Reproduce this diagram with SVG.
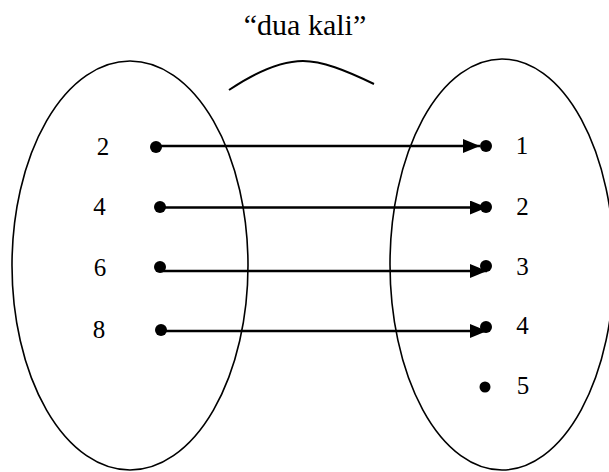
<svg xmlns="http://www.w3.org/2000/svg" width="609" height="472" viewBox="0 0 609 472">
  <style>
    text { font-family: 'Liberation Serif', 'Times New Roman', 'DejaVu Serif', serif; fill: #000; }
    .num { font-size: 25px; }
    .set { fill: none; stroke: #000; stroke-width: 1.6; }
    .conn { stroke: #000; stroke-width: 2.6; fill: none; }
    .dot { fill: #000; }
  </style>
  <defs>
    <marker id="arrow" markerUnits="userSpaceOnUse" markerWidth="18" markerHeight="14" refX="17" refY="7" orient="auto">
      <path d="M0,0 L17,7 L0,14 Z" fill="#000"/>
    </marker>
  </defs>
  <rect width="609" height="472" fill="#fff"/>

  <g id="title">
    <text x="305" y="35" font-family="Liberation Serif, serif" font-size="30" text-anchor="middle">“dua kali”</text>
    <path d="M229,90 C262,68 284,61 303,61 C322,61 345,70 374,84" fill="none" stroke="#000" stroke-width="2"/>
  </g>

  <g id="domain" font-family="Liberation Serif, serif">
    <ellipse class="set" cx="130" cy="265.5" rx="118" ry="204.5"/>
    <text class="num" x="103" y="155" text-anchor="middle">2</text>
    <text class="num" x="99.5" y="215" text-anchor="middle">4</text>
    <text class="num" x="100" y="276" text-anchor="middle">6</text>
    <text class="num" x="99" y="338" text-anchor="middle">8</text>
    <circle class="dot" cx="156" cy="147" r="6"/>
    <circle class="dot" cx="160" cy="207" r="6"/>
    <circle class="dot" cx="160" cy="267" r="6"/>
    <circle class="dot" cx="161" cy="330" r="6"/>
  </g>

  <g id="codomain" font-family="Liberation Serif, serif">
    <ellipse class="set" cx="502" cy="264.5" rx="112" ry="205.5"/>
    <circle class="dot" cx="486" cy="146" r="6"/>
    <circle class="dot" cx="486" cy="207" r="6"/>
    <circle class="dot" cx="486" cy="266" r="6"/>
    <circle class="dot" cx="486" cy="327" r="6"/>
    <circle class="dot" cx="485" cy="387" r="5.5"/>
    <text class="num" x="522" y="154" text-anchor="middle">1</text>
    <text class="num" x="522.5" y="215" text-anchor="middle">2</text>
    <text class="num" x="522.5" y="275" text-anchor="middle">3</text>
    <text class="num" x="522.5" y="334" text-anchor="middle">4</text>
    <text class="num" x="523" y="394" text-anchor="middle">5</text>
  </g>

  <g id="connectors">
    <line class="conn" x1="156" y1="146" x2="480" y2="146" marker-end="url(#arrow)"/>
    <line class="conn" x1="160" y1="207.5" x2="487" y2="207.5" marker-end="url(#arrow)"/>
    <line class="conn" x1="160" y1="271" x2="487" y2="271" marker-end="url(#arrow)"/>
    <line class="conn" x1="161" y1="331" x2="487" y2="331" marker-end="url(#arrow)"/>
  </g>
</svg>
